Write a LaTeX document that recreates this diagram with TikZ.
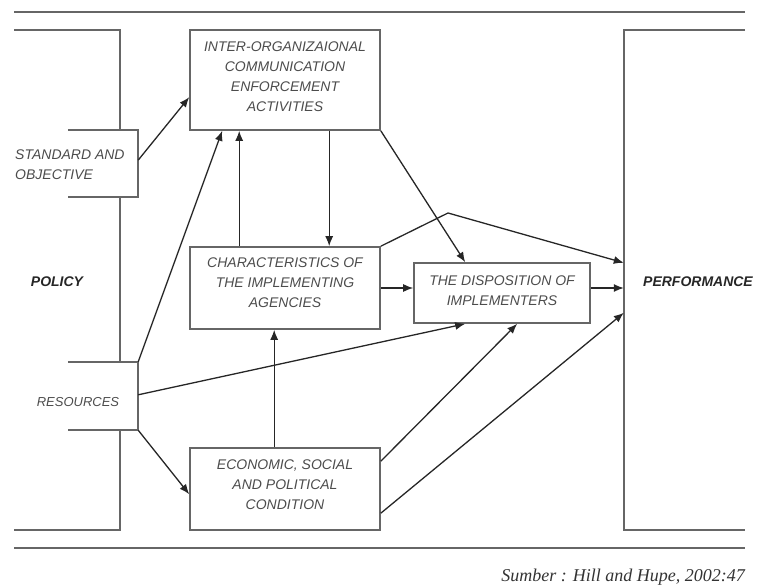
\documentclass[tikz,border=0pt]{standalone}
\usepackage{fontspec}
\setmainfont{Liberation Sans}
\newfontfamily\srcfont{Liberation Serif}
\usetikzlibrary{arrows.meta,calc}
\begin{document}
\begin{tikzpicture}[x=1pt,y=-1pt,
  frame/.style={draw=black!60,line width=1.6pt},
  boxnode/.style={draw=black!60,line width=1.6pt,inner sep=0pt},
  area/.style={inner sep=0pt},
  lbl/.style={text=black!70,font=\fontsize{14}{20}\selectfont\itshape,align=center,inner sep=0pt},
  side/.style={text=black!85,font=\fontsize{14}{17}\selectfont\itshape\bfseries,inner sep=0pt},
  conn/.style={draw=black!85,line width=1.3pt,-{Latex[length=10pt,width=8pt]}},
]
\useasboundingbox (0,0) rectangle (757,588);

% boxes
\node[boxnode,minimum width=190pt,minimum height=100pt] (ioc) at (285,80) {};
\node[boxnode,minimum width=190pt,minimum height=82pt] (char) at (285,288) {};
\node[boxnode,minimum width=176pt,minimum height=60pt] (disp) at (502,293) {};
\node[boxnode,minimum width=190pt,minimum height=82pt] (econ) at (285,489) {};
\node[area,minimum width=70pt,minimum height=67pt] (std) at (103,163.5) {};
\node[area,minimum width=70pt,minimum height=68pt] (res) at (103,396) {};
\node[area,minimum width=121pt,minimum height=500pt] (perf) at (684.5,280) {};

% frames
\draw[frame] (14,12) -- (745,12);
\draw[frame] (14,548) -- (745,548);
\draw[frame] (14,30) -- (120,30) -- (120,130);
\draw[frame] (std.north west) -- (std.north east) -- (std.south east) -- (std.south west);
\draw[frame] (120,197) -- (120,362);
\draw[frame] (res.north west) -- (res.north east) -- (res.south east) -- (res.south west);
\draw[frame] (120,430) -- (120,530) -- (14,530);
\draw[frame] (perf.north east) -- (perf.north west) -- (perf.south west) -- (perf.south east);

% texts
\node[lbl] (tioc) at (285,76.5) {INTER-ORGANIZAIONAL\\COMMUNICATION\\ENFORCEMENT\\ACTIVITIES};
\node[lbl] (tchar) at (285,283) {CHARACTERISTICS OF\\THE IMPLEMENTING\\AGENCIES};
\node[lbl] (tdisp) at (502,291) {THE DISPOSITION OF\\IMPLEMENTERS};
\node[lbl] (tecon) at (285,485) {ECONOMIC, SOCIAL\\AND POLITICAL\\CONDITION};
\node[lbl,align=left,anchor=west] (tstd) at (15,165) {STANDARD AND\\OBJECTIVE};
\node[lbl,font=\fontsize{13}{16}\selectfont\itshape] (tres) at (78,402) {RESOURCES};
\node[side] (tpol) at (57,282) {POLICY};
\node[side] (tperf) at (698,282) {PERFORMANCE};
\node[anchor=east,inner sep=0pt,text=black!80,font=\srcfont\fontsize{18}{20}\selectfont\itshape] (src) at (745,577) {Sumber : Hill and Hupe, 2002:47};

% connectors
\coordinate (peak) at (448,213);
\draw[conn] ($(std.north east)!0.45!(std.south east)$) -- ($(ioc.north west)+(0,68)$);
\draw[conn] (res.north east) -- ($(ioc.south west)+(33,0)$);
\draw[conn] ($(char.north west)+(50,0)$) -- ($(ioc.south west)+(50,0)$);
\draw[conn] ($(ioc.south west)+(140,0)$) -- ($(char.north west)+(140,0)$);
\draw[conn] (ioc.south east) -- ($(disp.north west)+(52,0)$);
\draw[conn] (char.north east) -- (peak) -- ($(perf.north west)+(0,233)$);
\draw[conn] (char.east) -- (char.east -| disp.west);
\draw[conn] (disp.east |- char.east) -- (perf.west |- char.east);
\draw[conn] ($(res.north east)+(0,33)$) -- ($(disp.south west)+(52,0)$);
\draw[conn] (res.south east) -- ($(econ.north west)+(0,47)$);
\draw[conn] ($(econ.north west)+(85,0)$) -- ($(char.south west)+(85,0)$);
\draw[conn] ($(econ.north east)+(0,14)$) -- ($(disp.south west)+(104,0)$);
\draw[conn] ($(econ.north east)+(0,66)$) -- ($(perf.north west)+(0,283)$);
\end{tikzpicture}
\end{document}
